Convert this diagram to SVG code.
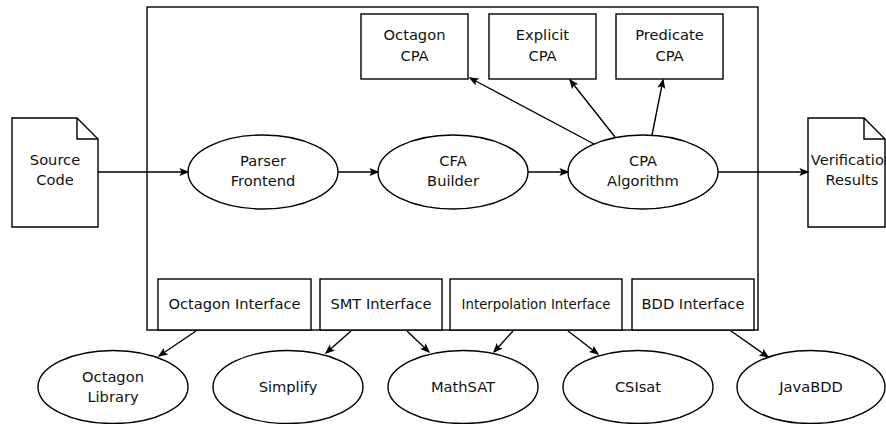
<svg xmlns="http://www.w3.org/2000/svg" width="886" height="424" viewBox="0 0 886 424">
<style>
.s{fill:#fff;stroke:#000;stroke-width:1.4}
.t{font-family:"DejaVu Sans","Liberation Sans",sans-serif;font-size:14.67px;fill:#111;text-anchor:middle}
.ts{font-size:13.3px}
.c line{stroke:#000;stroke-width:1.4;fill:none;marker-end:url(#ah)}
</style>
<defs>
<marker id="ah" markerUnits="userSpaceOnUse" markerWidth="11" markerHeight="9" refX="8.5" refY="4" orient="auto" overflow="visible">
<path d="M0,0 L10,4 L0,8 L2,4 z" fill="#000"/>
</marker>
</defs>
<rect id="framework" class="s" x="147" y="7" width="611" height="323"/>
<g id="source-code">
<path class="s" d="M12,118 H77 L98,139 V227 H12 Z M77,118 V139 H98"/>
<text class="t" x="55" y="165">Source</text>
<text class="t" x="55" y="185">Code</text>
</g>
<g id="verification-results">
<path class="s" d="M808,118 H864 L885,139 V227 H808 Z M864,118 V139 H885"/>
<text class="t" x="852" y="165">Verification</text>
<text class="t" x="852" y="185">Results</text>
</g>
<g id="parser-frontend">
<ellipse class="s" cx="263" cy="172" rx="75" ry="37"/>
<text class="t" x="263" y="166">Parser</text>
<text class="t" x="263" y="186">Frontend</text>
</g>
<g id="cfa-builder">
<ellipse class="s" cx="453" cy="172" rx="75" ry="37"/>
<text class="t" x="453" y="166">CFA</text>
<text class="t" x="453" y="186">Builder</text>
</g>
<g id="cpa-algorithm">
<ellipse class="s" cx="643" cy="172" rx="75" ry="37"/>
<text class="t" x="643" y="166">CPA</text>
<text class="t" x="643" y="186">Algorithm</text>
</g>
<g id="octagon-cpa">
<rect class="s" x="361" y="14" width="107" height="65"/>
<text class="t" x="414.5" y="40">Octagon</text>
<text class="t" x="414.5" y="61">CPA</text>
</g>
<g id="explicit-cpa">
<rect class="s" x="489" y="14" width="107" height="65"/>
<text class="t" x="542.5" y="40">Explicit</text>
<text class="t" x="542.5" y="61">CPA</text>
</g>
<g id="predicate-cpa">
<rect class="s" x="616" y="14" width="107" height="65"/>
<text class="t" x="669.5" y="40">Predicate</text>
<text class="t" x="669.5" y="61">CPA</text>
</g>
<g id="octagon-interface">
<rect class="s" x="158" y="279" width="153" height="51"/>
<text class="t" x="234.5" y="308.5">Octagon Interface</text>
</g>
<g id="smt-interface">
<rect class="s" x="320" y="279" width="122" height="51"/>
<text class="t" x="381" y="308.5">SMT Interface</text>
</g>
<g id="interpolation-interface">
<rect class="s" x="450" y="279" width="172" height="51"/>
<text class="t ts" x="536" y="308.5">Interpolation Interface</text>
</g>
<g id="bdd-interface">
<rect class="s" x="632" y="279" width="122" height="51"/>
<text class="t" x="693" y="308.5">BDD Interface</text>
</g>
<g id="octagon-library">
<ellipse class="s" cx="113" cy="387" rx="75" ry="36.5"/>
<text class="t" x="113" y="382">Octagon</text>
<text class="t" x="113" y="402">Library</text>
</g>
<g id="simplify">
<ellipse class="s" cx="288" cy="387" rx="75" ry="36.5"/>
<text class="t" x="288" y="392">Simplify</text>
</g>
<g id="mathsat">
<ellipse class="s" cx="463" cy="387" rx="75" ry="36.5"/>
<text class="t" x="463" y="392">MathSAT</text>
</g>
<g id="csisat">
<ellipse class="s" cx="638" cy="387" rx="75" ry="36.5"/>
<text class="t" x="638" y="392">CSIsat</text>
</g>
<g id="javabdd">
<ellipse class="s" cx="811" cy="387" rx="74" ry="36.5"/>
<text class="t" x="811" y="392">JavaBDD</text>
</g>
<g id="connectors" class="c">
<line x1="98" y1="172" x2="188" y2="172"/>
<line x1="338" y1="172" x2="378" y2="172"/>
<line x1="528" y1="172" x2="568" y2="172"/>
<line x1="718" y1="172" x2="808" y2="172"/>
<line x1="594" y1="144" x2="470" y2="78"/>
<line x1="615" y1="137" x2="570" y2="80"/>
<line x1="652" y1="135" x2="663" y2="80"/>
<line x1="196" y1="331" x2="159" y2="356"/>
<line x1="351" y1="331" x2="326" y2="353"/>
<line x1="407" y1="331" x2="429" y2="352"/>
<line x1="513" y1="331" x2="494" y2="352"/>
<line x1="568" y1="331" x2="598" y2="354"/>
<line x1="731" y1="331" x2="768" y2="357"/>
</g>
</svg>
